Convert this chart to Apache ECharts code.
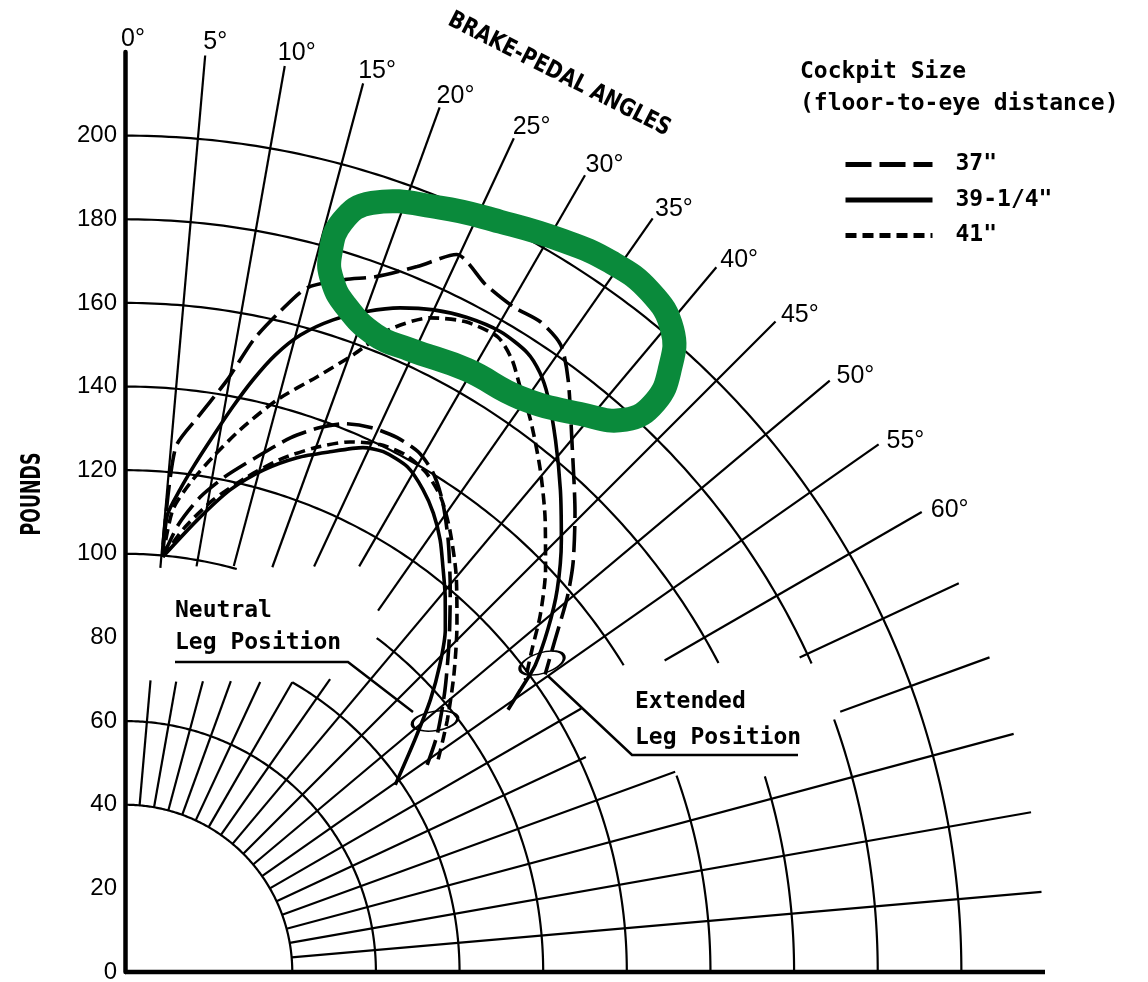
<!DOCTYPE html>
<html>
<head>
<meta charset="utf-8">
<script src="https://cdn.jsdelivr.net/npm/echarts@6/dist/echarts.min.js"></script>
<style>
  html, body { margin: 0; padding: 0; background: #fff; }
  #chart { width: 1148px; height: 982px; }
</style>
</head>
<body>
<div id="chart"></div>
<script>
// Brake-pedal force (pounds) plotted against pedal angle (degrees) on a
// quarter-polar grid. Every curve point is [pounds, angle].
const SIZES = ['37"', '39-1/4"', '41"'];

const NEUTRAL_37 = [[99.7,5.2],[107.7,6.8],[115.0,9.0],[120.8,11.4],[126.8,14.2],[133.7,17.2],[138.3,19.7],[141.3,21.9],[142.9,24.4],[143.4,27.0],[142.8,29.4],[140.4,31.6],[136.0,33.9],[129.0,36.8],[120.0,40.4],[111.0,44.3],[102.0,48.6],[93.7,52.8],[86.5,56.1]];
const NEUTRAL_39 = [[99.7,5.2],[109.5,9.1],[118.0,12.3],[124.5,15.4],[129.7,18.5],[133.7,21.5],[137.7,24.4],[138.9,26.4],[138.4,29.2],[135.6,31.7],[132.2,33.9],[127.9,36.1],[123.2,38.1],[117.9,40.5],[112.1,43.1],[105.2,45.7],[97.8,48.3],[88.8,51.3],[78.6,55.3]];
const NEUTRAL_41 = [[99.7,5.2],[107.4,7.7],[114.9,10.6],[121.6,13.7],[128.0,16.8],[133.3,19.9],[137.7,23.0],[140.1,25.8],[140.7,28.4],[139.5,31.0],[136.4,33.6],[131.2,36.3],[123.7,39.8],[114.9,43.7],[106.0,47.9],[97.8,52.0],[90.4,55.9]];

const EXTENDED_37 = [[102.6,5.1],[125.9,5.5],[133.9,7.5],[143.7,9.8],[154.3,11.5],[162.2,13.2],[169.3,14.9],[173.7,17.6],[176.7,19.8],[182.6,22.5],[189.0,24.8],[185.6,27.7],[184.2,30.3],[184.5,32.6],[182.6,34.8],[176.9,36.8],[165.0,40.4],[153.8,44.4],[145.1,47.6],[138.7,49.7],[130.0,52.3],[123.1,54.7]];
const EXTENDED_39 = [[99.7,5.2],[109.8,5.3],[116.1,6.5],[121.9,7.7],[129.7,9.3],[137.6,10.8],[144.9,12.2],[151.9,13.7],[158.0,15.4],[163.7,17.7],[168.2,20.1],[171.9,22.5],[174.7,25.0],[176.6,27.6],[177.5,30.4],[176.6,33.0],[174.3,34.7],[170.8,36.3],[163.6,39.0],[155.3,42.1],[146.8,45.3],[138.0,48.5],[130.1,51.0],[122.5,53.2],[116.1,54.5],[111.0,55.6]];
const EXTENDED_41 = [[99.7,5.2],[111.1,5.9],[118.0,7.6],[125.0,9.7],[132.6,12.0],[141.6,14.9],[149.6,17.9],[157.4,20.3],[166.2,22.4],[172.6,25.0],[175.5,27.6],[176.1,30.4],[173.2,32.3],[168.9,34.0],[163.8,36.3],[155.8,39.6],[147.6,42.9],[139.1,46.3],[131.0,49.3],[124.2,51.6],[118.5,53.9]];

// Highlighted peak region, as [pounds, angle] around the extended-leg maxima.
const HIGHLIGHT_RING = [[178.4,15.96],[186.8,16.14],[193.2,17.81],[197.7,22.4],[200.6,26.57],[203.7,30.72],[205.7,34.34],[205.5,37.67],[201.8,40.43],[194.6,42.06],[186.2,42.92],[178.2,42.17],[172.2,39.19],[166.7,34.53],[165.6,29.6],[163.7,24.62],[163.7,21.43],[168.0,18.25],[172.8,16.65]];

// Angle tick labels along the outer rim.
const ANGLE_TICKS = [0, 5, 10, 15, 20, 25, 30, 35, 40, 45, 50, 55, 60];

// Grid: arcs as [pounds, fromAngle, toAngle]; spokes as [fromPounds, angle, toPounds].
// Gaps leave room for the leg-position notes.
const GRID_ARCS = [
  [40,0,90],[60,0,90],[80,30,90],[100,0,15.5],[100,37,90],[120,0,90],
  [140,0,58.4],[140,70.4,90],[160,0,62.5],[160,73,90],[180,0,65.8],[180,70.4,90],[200,0,90]
];
const GRID_SPOKES = [
  [40,5,70],[97,5,220],[40,10,70.5],[98.5,10,220],[40,15,72],[100.5,15,220],
  [40,20,74],[103,20,220],[40,25,76.5],[107,25,220],[40,30,80],[112,30,220],
  [40,35,85.5],[105.5,35,220],[40,40,220],[40,45,220],[40,50,220],[40,55,220],
  [40,60,126],[149,60,220],[40,65,121.6],[178,65,220],[40,70,140],[182,70,220],
  [40,75,220],[40,80,220],[40,85,220],[0,90,220]
];

const MONO = '"DejaVu Sans Mono", monospace';
const NARROW = '"Liberation Sans Narrow", "DejaVu Sans Condensed", sans-serif';
const SANS = '"Liberation Sans", Arial, sans-serif';
const LABEL_R = 225.5;          // rim label radius, pounds
const LABEL_SHIFT = [8, 10];    // nudge of rim labels, px

const LONG_DASH = [26, 8];
const SHORT_DASH = [11, 6];

function curve(name, data, dash) {
  return {
    name, type: 'line', coordinateSystem: 'polar', data,
    symbol: 'none', smooth: 0.25, z: 3, silent: true,
    color: '#000',
    lineStyle: { color: '#000', width: 3.6, type: dash, cap: 'butt' }
  };
}

function note(text, x, y) {
  return { type: 'text', x, y, z: 10,
    style: { text, fontSize: 23, fontWeight: 'bold', fontFamily: MONO, fill: '#000',
             align: 'left', verticalAlign: 'middle', textAlign: 'left', textVerticalAlign: 'middle' } };
}

const chart = echarts.init(document.getElementById('chart'), null, { renderer: 'canvas' });

chart.setOption({
  backgroundColor: '#fff',
  animation: false,
  polar: { center: [125, 972], radius: 920 },
  angleAxis: {
    type: 'value', min: 0, max: 360, interval: 5, startAngle: 90, clockwise: true,
    axisLine: { show: false }, axisTick: { show: false },
    axisLabel: { show: false }, splitLine: { show: false }
  },
  radiusAxis: {
    type: 'value', min: 0, max: 220, interval: 20,
    axisLine: { show: true, lineStyle: { color: '#000', width: 4.5 } },
    axisTick: { show: false },
    splitLine: { show: false },
    axisLabel: {
      margin: 8, color: '#000', fontSize: 24, fontFamily: SANS,
      formatter: v => (v <= 200 ? String(v) : '')
    }
  },
  legend: {
    orient: 'vertical', left: 838, top: 148,
    itemWidth: 87, itemHeight: 14, itemGap: 12.5,
    selectedMode: false,
    lineStyle: { width: 5 },
    itemStyle: { color: 'rgba(0,0,0,0)', borderWidth: 0, opacity: 0 },
    textStyle: { fontFamily: MONO, fontSize: 23, fontWeight: 'bold', color: '#000', padding: [0, 0, 0, 18] },
    data: SIZES
  },
  series: [
    {
      type: 'custom', coordinateSystem: 'polar', silent: true, z: 1,
      data: GRID_ARCS,
      renderItem: (params, api) => {
        const r = api.value(0), a0 = api.value(1), a1 = api.value(2);
        const pts = [];
        for (let a = a0; a < a1; a += 0.5) pts.push(api.coord([r, a]));
        pts.push(api.coord([r, a1]));
        return { type: 'polyline', shape: { points: pts }, style: { stroke: '#000', lineWidth: 2.2, fill: null } };
      }
    },
    {
      type: 'custom', coordinateSystem: 'polar', silent: true, z: 1,
      data: GRID_SPOKES,
      renderItem: (params, api) => {
        const r0 = api.value(0), a = api.value(1), r1 = api.value(2);
        const p0 = api.coord([r0, a]), p1 = api.coord([r1, a]);
        return {
          type: 'line',
          shape: { x1: p0[0], y1: p0[1], x2: p1[0], y2: p1[1] },
          style: { stroke: '#000', lineWidth: a === 90 ? 4.5 : 2.2 }
        };
      }
    },
    {
      type: 'custom', coordinateSystem: 'polar', silent: true, z: 2,
      data: ANGLE_TICKS.map(a => [LABEL_R, a]),
      renderItem: (params, api) => {
        const p = api.coord([api.value(0), api.value(1)]);
        return {
          type: 'text', x: p[0] + LABEL_SHIFT[0], y: p[1] + LABEL_SHIFT[1],
          style: {
            text: api.value(1) + '°', fill: '#000',
            fontSize: 25, fontFamily: SANS,
            align: 'center', verticalAlign: 'middle',
            textAlign: 'center', textVerticalAlign: 'middle'
          }
        };
      }
    },
    curve(SIZES[0], NEUTRAL_37, LONG_DASH),
    curve(SIZES[1], NEUTRAL_39, 'solid'),
    curve(SIZES[2], NEUTRAL_41, SHORT_DASH),
    curve(SIZES[0], EXTENDED_37, LONG_DASH),
    curve(SIZES[1], EXTENDED_39, 'solid'),
    curve(SIZES[2], EXTENDED_41, SHORT_DASH),
    {
      type: 'custom', coordinateSystem: 'polar', silent: true, z: 8,
      data: [0],
      renderItem: (params, api) => ({
        type: 'polygon',
        shape: { points: HIGHLIGHT_RING.map(p => api.coord(p)), smooth: 0.45 },
        style: { stroke: '#0a8a3b', lineWidth: 24, fill: null }
      })
    }
  ],
  graphic: [
    { type: 'text', x: 455, y: 8, rotation: -27 * Math.PI / 180, scaleX: 0.9, z: 10,
      style: { text: 'BRAKE-PEDAL ANGLES', fontSize: 24, fontWeight: 'bold', fontFamily: NARROW, fill: '#000',
               align: 'left', verticalAlign: 'top', textAlign: 'left', textVerticalAlign: 'top' } },
    { type: 'text', x: 33, y: 494, rotation: Math.PI / 2, scaleX: 0.74, z: 10,
      style: { text: 'POUNDS', fontSize: 26, fontWeight: 'bold', fontFamily: NARROW, fill: '#000',
               align: 'center', verticalAlign: 'middle', textAlign: 'center', textVerticalAlign: 'middle' } },
    note('Cockpit Size', 800, 72),
    note('(floor-to-eye distance)', 800, 104),
    note('Neutral', 175, 611),
    note('Leg Position', 175, 643),
    { type: 'polyline', z: 10, shape: { points: [[175, 662], [348, 662], [413, 712]] },
      style: { stroke: '#000', lineWidth: 2.5, fill: null } },
    { type: 'circle', z: 10, x: 435, y: 721, scaleX: 1, scaleY: 0.42, rotation: 0.15,
      shape: { cx: 0, cy: 0, r: 23 }, style: { stroke: '#000', lineWidth: 2.2, fill: null, strokeNoScale: true } },
    note('Extended', 635, 702),
    note('Leg Position', 635, 738),
    { type: 'polyline', z: 10, shape: { points: [[798, 755], [632, 755], [548, 676]] },
      style: { stroke: '#000', lineWidth: 2.5, fill: null } },
    { type: 'circle', z: 10, x: 542, y: 663, scaleX: 1, scaleY: 0.45, rotation: 0.3,
      shape: { cx: 0, cy: 0, r: 23 }, style: { stroke: '#000', lineWidth: 2.2, fill: null, strokeNoScale: true } }
  ]
});
</script>
</body>
</html>
